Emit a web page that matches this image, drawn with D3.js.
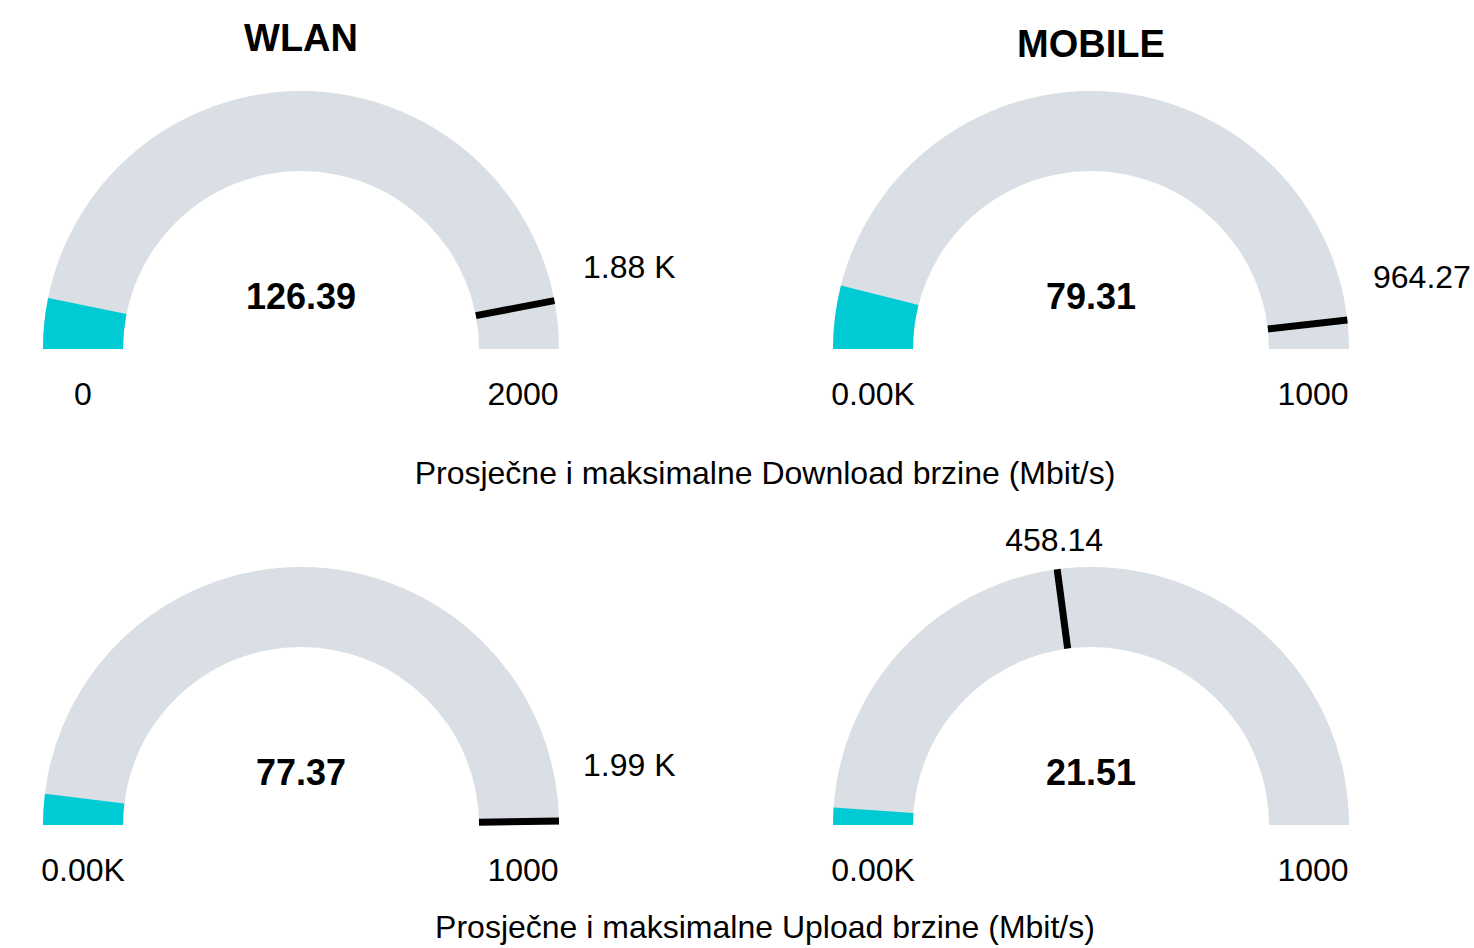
<!DOCTYPE html>
<html>
<head>
<meta charset="utf-8">
<script src="https://cdn.jsdelivr.net/npm/d3@7"></script>
<style>
  body { margin: 0; background: #fff; overflow: hidden; }
  text { font-family: "Liberation Sans", Arial, sans-serif; fill: #000; }
  .title { font-weight: bold; font-size: 38px; }
  .value { font-weight: bold; font-size: 36px; }
  .tick { font-size: 32px; }
  .sub { font-size: 32px; }
</style>
</head>
<body>
<div id="chart"></div>
<script>
// data
var columns = ['WLAN', 'MOBILE'];
var rowTitles = ['Prosječne i maksimalne Download brzine (Mbit/s)',
                 'Prosječne i maksimalne Upload brzine (Mbit/s)'];
// gauge order: download WLAN, download MOBILE, upload WLAN, upload MOBILE
var avgValues = [126.39, 79.31, 77.37, 21.51];
var maxValues = [1880, 964.27, 1990, 458.14];
var targetLabels = ['1.88 K', '964.27', '1.99 K', '458.14'];
var axisMin = [0, 0, 0, 0];
var axisMax = [2000, 1000, 2000, 1000];
var minLabels = ['0', '0.00K', '0.00K', '0.00K'];
var maxLabels = ['2000', '1000', '1000', '1000'];

var width = 1474, height = 948;
var outerR = 258, innerR = 178;
var colX = [301, 1091];
var rowY = [349, 825];
var grey = '#d9dfe4', teal = '#00cad4';

var svg = d3.select('#chart').append('svg')
  .attr('width', width)
  .attr('height', height);

// column titles
svg.selectAll('.title')
  .data(columns)
  .enter().append('text')
  .attr('class', 'title')
  .attr('text-anchor', 'middle')
  .attr('x', function(d, i) { return colX[i]; })
  .attr('y', function(d, i) { return i === 0 ? 51 : 57; })
  .text(function(d) { return d; });

// row subtitles
svg.selectAll('.sub')
  .data(rowTitles)
  .enter().append('text')
  .attr('class', 'sub')
  .attr('text-anchor', 'middle')
  .attr('x', 765)
  .attr('y', function(d, i) { return i === 0 ? 484 : 938; })
  .text(function(d) { return d; });

var arc = d3.arc().innerRadius(innerR).outerRadius(outerR);

avgValues.forEach(function(v, i) {
  var cx = colX[i % 2], cy = rowY[Math.floor(i / 2)];
  var angle = d3.scaleLinear()
    .domain([axisMin[i], axisMax[i]])
    .range([-Math.PI / 2, Math.PI / 2])
    .clamp(true);

  var g = svg.append('g')
    .attr('transform', 'translate(' + cx + ',' + cy + ')');

  // background band
  g.append('path')
    .attr('d', arc({ startAngle: -Math.PI / 2, endAngle: Math.PI / 2 }))
    .attr('fill', grey);

  // value band
  g.append('path')
    .attr('d', arc({ startAngle: -Math.PI / 2, endAngle: angle(v) }))
    .attr('fill', teal);

  // target line
  var a = angle(maxValues[i]);
  g.append('line')
    .attr('x1', innerR * Math.sin(a)).attr('y1', -innerR * Math.cos(a))
    .attr('x2', outerR * Math.sin(a)).attr('y2', -outerR * Math.cos(a))
    .attr('stroke', '#000')
    .attr('stroke-width', 7);

  // target label
  var tx, ty, anchor;
  if (Math.sin(a) > 0.7) {
    tx = outerR + 24;
    ty = -outerR * Math.cos(a) * 0.5 - 47;
    anchor = 'start';
  } else {
    tx = outerR * Math.sin(a) - 3;
    ty = -outerR * Math.cos(a) - 18;
    anchor = 'middle';
  }
  g.append('text')
    .attr('class', 'tick')
    .attr('text-anchor', anchor)
    .attr('x', tx).attr('y', ty)
    .text(targetLabels[i]);

  // center value
  g.append('text')
    .attr('class', 'value')
    .attr('text-anchor', 'middle')
    .attr('y', -40)
    .text(d3.format('.2f')(v));

  // min / max labels
  var mid = (outerR + innerR) / 2;
  g.append('text')
    .attr('class', 'tick')
    .attr('text-anchor', 'middle')
    .attr('x', -mid).attr('y', 56)
    .text(minLabels[i]);
  g.append('text')
    .attr('class', 'tick')
    .attr('text-anchor', 'middle')
    .attr('x', mid + 4).attr('y', 56)
    .text(maxLabels[i]);
});
</script>
</body>
</html>
